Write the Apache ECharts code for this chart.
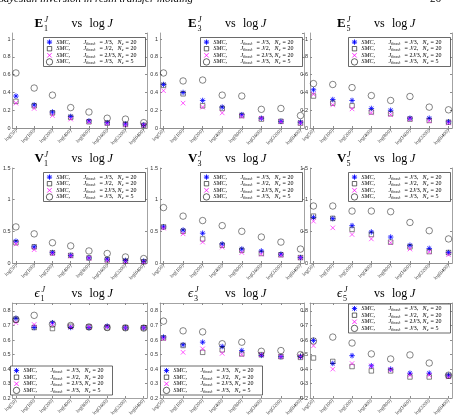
<!DOCTYPE html>
<html>
<head>
<meta charset="utf-8">
<script src="https://cdn.jsdelivr.net/npm/echarts@6/dist/echarts.min.js"></script>
<style>
  html, body { margin: 0; padding: 0; background: #fff; }
  #chart { width: 455px; height: 419px; }
</style>
</head>
<body>
<div id="chart"></div>
<script>
  var cats = ['log(50)', 'log(100)', 'log(200)', 'log(400)', 'log(800)', 'log(1600)', 'log(3200)', 'log(6400)'];
  var legendNames = ['J/3, 20', 'J/2, 20', '2J/3, 20', 'J/3, 5'];
  var threshLabels = ['{i|J}/3,', '{i|J}/2,', '2{i|J}/3,', '{i|J}/3,'];
  var particleCounts = ['20', '20', '20', '5'];

  // E_1^J
  var e1Star = [0.36, 0.26, 0.18, 0.13, 0.08, 0.06, 0.045, 0.035];
  var e1Square = [0.30, 0.25, 0.17, 0.12, 0.07, 0.055, 0.04, 0.03];
  var e1Cross = [0.28, 0.22, 0.14, 0.10, 0.07, 0.05, 0.035, 0.03];
  var e1Circle = [0.62, 0.45, 0.37, 0.23, 0.18, 0.11, 0.10, 0.06];
  // E_3^J
  var e3Star = [0.49, 0.40, 0.31, 0.235, 0.15, 0.11, 0.075, 0.065];
  var e3Square = [0.48, 0.385, 0.25, 0.22, 0.14, 0.10, 0.075, 0.055];
  var e3Cross = [0.42, 0.28, 0.235, 0.17, 0.13, 0.11, 0.07, 0.055];
  var e3Circle = [0.62, 0.53, 0.54, 0.37, 0.36, 0.21, 0.22, 0.14];
  // E_5^J
  var e5Star = [0.43, 0.32, 0.31, 0.22, 0.20, 0.11, 0.11, 0.07];
  var e5Square = [0.36, 0.28, 0.25, 0.18, 0.16, 0.10, 0.085, 0.065];
  var e5Cross = [0.38, 0.26, 0.215, 0.17, 0.15, 0.10, 0.08, 0.055];
  var e5Circle = [0.50, 0.49, 0.455, 0.365, 0.31, 0.355, 0.235, 0.205];
  // V_1^J
  var v1Star = [0.345, 0.255, 0.165, 0.12, 0.08, 0.06, 0.04, 0.03];
  var v1Square = [0.32, 0.255, 0.16, 0.12, 0.08, 0.05, 0.03, 0.02];
  var v1Cross = [0.30, 0.21, 0.145, 0.11, 0.075, 0.04, 0.025, 0.015];
  var v1Circle = [0.57, 0.46, 0.32, 0.27, 0.19, 0.15, 0.095, 0.07];
  // V_3^J
  var v3Star = [0.57, 0.52, 0.47, 0.30, 0.22, 0.19, 0.14, 0.085];
  var v3Square = [0.57, 0.50, 0.38, 0.28, 0.20, 0.15, 0.13, 0.085];
  var v3Cross = [0.55, 0.46, 0.33, 0.25, 0.165, 0.14, 0.12, 0.08];
  var v3Circle = [0.875, 0.74, 0.67, 0.59, 0.50, 0.41, 0.33, 0.22];
  // V_5^J
  var v5Star = [0.72, 0.70, 0.59, 0.49, 0.41, 0.28, 0.23, 0.165];
  var v5Square = [0.74, 0.705, 0.53, 0.45, 0.33, 0.255, 0.18, 0.165];
  var v5Cross = [0.66, 0.555, 0.45, 0.38, 0.32, 0.22, 0.175, 0.13];
  var v5Circle = [0.90, 0.90, 0.82, 0.82, 0.81, 0.64, 0.51, 0.38];
  // eps_1^J
  var p1Star = [0.749, 0.686, 0.719, 0.686, 0.686, 0.695, 0.684, 0.684];
  var p1Square = [0.737, 0.686, 0.679, 0.695, 0.69, 0.684, 0.684, 0.684];
  var p1Cross = [0.719, 0.707, 0.707, 0.69, 0.69, 0.69, 0.684, 0.684];
  var p1Circle = [0.742, 0.77, 0.709, 0.70, 0.69, 0.686, 0.684, 0.682];
  // eps_3^J
  var p3Star = [0.62, 0.567, 0.585, 0.555, 0.527, 0.494, 0.485, 0.485];
  var p3Square = [0.614, 0.562, 0.515, 0.532, 0.504, 0.499, 0.485, 0.48];
  var p3Cross = [0.609, 0.515, 0.539, 0.508, 0.499, 0.499, 0.485, 0.485];
  var p3Circle = [0.73, 0.663, 0.656, 0.574, 0.585, 0.522, 0.527, 0.499];
  // eps_5^J
  var p5Star = [0.597, 0.438, 0.492, 0.422, 0.399, 0.371, 0.371, 0.357];
  var p5Square = [0.476, 0.452, 0.417, 0.387, 0.387, 0.345, 0.345, 0.35];
  var p5Cross = [0.56, 0.399, 0.438, 0.42, 0.394, 0.357, 0.357, 0.345];
  var p5Circle = [0.593, 0.62, 0.579, 0.504, 0.469, 0.497, 0.441, 0.357];

  var panelData = [
    [e1Star, e1Square, e1Cross, e1Circle], [e3Star, e3Square, e3Cross, e3Circle], [e5Star, e5Square, e5Cross, e5Circle],
    [v1Star, v1Square, v1Cross, v1Circle], [v3Star, v3Square, v3Cross, v3Circle], [v5Star, v5Square, v5Cross, v5Circle],
    [p1Star, p1Square, p1Cross, p1Circle], [p3Star, p3Square, p3Cross, p3Circle], [p5Star, p5Square, p5Cross, p5Circle]
  ];

  var colLeft = [10, 160, 310];
  var colWidth = [137, 144, 142];
  var rowTop = [33, 168, 303];
  var rowHeight = 95;
  var yRange = [
    {min: 0, max: 1.07, interval: 0.2, showMax: false},
    {min: 0, max: 1.5, interval: 0.5, showMax: true},
    {min: 0.2, max: 0.855, interval: 0.1, showMax: false}
  ];
  var titleLetters = ['E', 'V', 'ϵ'];
  var subs = ['1', '3', '5'];
  var axisColor = '#8c8c8c';
  var serif = 'Liberation Serif, DejaVu Serif, serif';
  var BLUE = '#0000ff', MAGENTA = '#ff00ff';

  var markers = [
    {symbol: 'path://M0 5H10M5 0V10M1.5 1.5L8.5 8.5M8.5 1.5L1.5 8.5', size: 5.5,
      style: {color: 'none', borderColor: BLUE, borderWidth: 1}},
    {symbol: 'rect', size: 4.5, style: {color: 'none', borderColor: '#000', borderWidth: 0.6}},
    {symbol: 'path://M0 0L10 10M10 0L0 10', size: 4.5,
      style: {color: 'none', borderColor: MAGENTA, borderWidth: 0.8}},
    {symbol: 'circle', size: 6.5, style: {color: 'none', borderColor: '#000', borderWidth: 0.6}}
  ];

  var grids = [], xAxes = [], yAxes = [], series = [], graphics = [];
  var xIdx = cats.map(function (c, i) { return i + 1; });

  function txt(x, y, text, size, extra) {
    var st = {text: text, fontSize: size, fontFamily: serif, fill: '#000', textVerticalAlign: 'middle'};
    Object.assign(st, extra || {});
    return {type: 'text', x: x, y: y, z: 101, style: st};
  }

  function line(x1, y1, x2, y2, color, w) {
    return {type: 'line', z: 101, shape: {x1: x1, y1: y1, x2: x2, y2: y2}, style: {stroke: color, lineWidth: w}};
  }

  // legend box drawn as graphic (icons + labels)
  function addLegend(lx, ly) {
    graphics.push({type: 'rect', z: 100, shape: {x: lx, y: ly, width: 102, height: 29},
      style: {fill: '#fff', stroke: '#444', lineWidth: 0.8}});
    for (var k = 0; k < 4; k++) {
      var cy = ly + 4.6 + k * 6.6;
      var ix = lx + 6;
      if (k === 0) {
        graphics.push(line(ix - 2.6, cy, ix + 2.6, cy, BLUE, 0.9), line(ix, cy - 2.6, ix, cy + 2.6, BLUE, 0.9),
          line(ix - 1.9, cy - 1.9, ix + 1.9, cy + 1.9, BLUE, 0.9), line(ix + 1.9, cy - 1.9, ix - 1.9, cy + 1.9, BLUE, 0.9));
      } else if (k === 1) {
        graphics.push({type: 'rect', z: 101, shape: {x: ix - 2.2, y: cy - 2.2, width: 4.4, height: 4.4},
          style: {fill: 'none', stroke: '#000', lineWidth: 0.6}});
      } else if (k === 2) {
        graphics.push(line(ix - 2.2, cy - 2.2, ix + 2.2, cy + 2.2, MAGENTA, 0.8), line(ix + 2.2, cy - 2.2, ix - 2.2, cy + 2.2, MAGENTA, 0.8));
      } else {
        graphics.push({type: 'circle', z: 101, shape: {cx: ix, cy: cy, r: 3.2},
          style: {fill: 'none', stroke: '#000', lineWidth: 0.6}});
      }
      var it = {fontStyle: 'italic'};
      graphics.push(
        txt(lx + 13, cy, 'SMC,', 6, it),
        txt(lx + 40, cy, 'J', 6, it),
        txt(lx + 42.6, cy + 1.4, 'thresh', 3.8, it),
        txt(lx + 56, cy, '= ' + threshLabels[k], 6,
          {rich: {i: {fontStyle: 'italic', fontSize: 6, fontFamily: serif}}}),
        txt(lx + 74, cy, 'N', 6, it),
        txt(lx + 78.2, cy + 1.4, 'e', 3.8, it),
        txt(lx + 82, cy, '= ' + particleCounts[k], 6)
      );
    }
  }

  panelData.forEach(function (sets, p) {
    var r = Math.floor(p / 3), c = p % 3;
    var yr = yRange[r];
    grids.push({left: colLeft[c], top: rowTop[r], width: colWidth[c], height: rowHeight});

    xAxes.push({
      type: 'value', gridIndex: p, position: 'bottom', min: 0.82, max: 8.18,
      axisLine: {show: true, lineStyle: {color: axisColor, width: 0.8}},
      axisTick: {show: true, inside: true, length: 2, customValues: xIdx, lineStyle: {color: axisColor}},
      splitLine: {show: false},
      axisLabel: {show: true, customValues: xIdx, rotate: 45, fontSize: 5, color: '#333', margin: 2,
        fontFamily: serif, formatter: function (v) { return cats[Math.round(v) - 1]; }}
    });
    yAxes.push({
      type: 'value', gridIndex: p, position: 'left', min: yr.min, max: yr.max, interval: yr.interval,
      axisLine: {show: true, lineStyle: {color: axisColor, width: 0.8}},
      axisTick: {show: true, inside: true, length: 2, lineStyle: {color: axisColor}},
      splitLine: {show: false},
      axisLabel: {show: true, fontSize: 5.5, color: '#333', margin: 2, showMaxLabel: yr.showMax, fontFamily: 'Liberation Sans'}
    });

    sets.forEach(function (arr, k) {
      series.push({
        name: legendNames[k], type: 'scatter', xAxisIndex: p, yAxisIndex: p,
        symbol: markers[k].symbol, symbolSize: markers[k].size,
        itemStyle: markers[k].style,
        silent: true,
        data: arr.map(function (v, i) { return [xIdx[i], v]; })
      });
    });

    var gRight = colLeft[c] + colWidth[c];
    if (p === 6 || p === 7) {
      addLegend(colLeft[c] + 0.5, rowTop[r] + rowHeight - 3 - 29);
    } else if (p === 8) {
      addLegend(gRight - 103.5, rowTop[r] + 1);
    } else {
      addLegend(gRight - 103.5, rowTop[r] + 4.5);
    }

    // panel title
    var x0 = colLeft[c] + colWidth[c] / 2 - 44;
    var base = rowTop[r] - 3;
    var isEps = r === 2;
    var bottom = {textVerticalAlign: 'bottom'};
    graphics.push(
      txt(x0, base, titleLetters[r], 13, {fontWeight: isEps ? 'normal' : 'bold', fontStyle: isEps ? 'italic' : 'normal',
        textVerticalAlign: 'bottom'}),
      txt(x0 + (isEps ? 7 : 10), base - 6, 'J', 8, {fontStyle: 'italic', textVerticalAlign: 'bottom'}),
      txt(x0 + (isEps ? 6 : 9.5), base + 3, subs[c], 8, bottom),
      txt(x0 + 37, base, 'vs', 12, bottom),
      txt(x0 + 55, base, 'log', 12, bottom),
      txt(x0 + 73, base, 'J', 12, {fontStyle: 'italic', textVerticalAlign: 'bottom'})
    );
  });

  // mirror axes on top and right, ticks only (box like the original)
  panelData.forEach(function (sets, p) {
    var r = Math.floor(p / 3);
    var yr = yRange[r];
    xAxes.push({
      type: 'value', gridIndex: p, position: 'top', min: 0.82, max: 8.18,
      axisLine: {show: true, lineStyle: {color: axisColor, width: 0.8}},
      axisTick: {show: true, inside: true, length: 2, customValues: xIdx, lineStyle: {color: axisColor}},
      axisLabel: {show: false}, splitLine: {show: false}
    });
    yAxes.push({
      type: 'value', gridIndex: p, position: 'right', min: yr.min, max: yr.max, interval: yr.interval,
      axisLine: {show: true, lineStyle: {color: axisColor, width: 0.8}},
      axisTick: {show: true, inside: true, length: 2, lineStyle: {color: axisColor}},
      axisLabel: {show: false}, splitLine: {show: false}
    });
  });

  graphics.push(
    txt(-3, 5, 'Bayesian inversion in resin transfer molding', 11, {fontStyle: 'italic', textVerticalAlign: 'bottom'}),
    txt(430, 5, '26', 11, {textVerticalAlign: 'bottom'})
  );

  var option = {
    backgroundColor: '#fff',
    animation: false,
    grid: grids,
    xAxis: xAxes,
    yAxis: yAxes,
    series: series,
    graphic: graphics
  };

  echarts.init(document.getElementById('chart'), null, {renderer: 'canvas'}).setOption(option);
</script>
</body>
</html>
